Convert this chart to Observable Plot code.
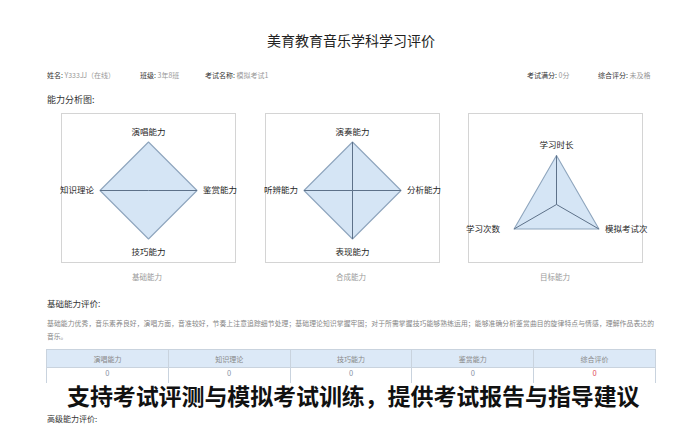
<!DOCTYPE html>
<html><head><meta charset="utf-8">
<script src="https://cdn.jsdelivr.net/npm/d3@7"></script>
<script src="https://cdn.jsdelivr.net/npm/@observablehq/plot@0.6"></script>
<style>
html,body{margin:0;padding:0;background:#fff;}
body{width:700px;height:431px;position:relative;overflow:hidden;font-family:"Noto Sans CJK SC","Noto Sans",sans-serif;color:#222;}
.t{position:absolute;white-space:nowrap;}
.box{position:absolute;border:1px solid #d4d4d4;box-sizing:border-box;width:175px;height:150px;}
.plot{position:absolute;}
table{position:absolute;left:46px;top:349px;width:610px;border-collapse:collapse;table-layout:fixed;}
td,th{border:1px solid #c9d3de;text-align:center;font-weight:normal;padding:0;}
th{background:#dce9f7;height:17px;font-size:7px;line-height:8px;color:#888;}
td{height:14px;font-size:7.5px;line-height:8px;color:#8a93a6;vertical-align:top;padding-top:0.5px;border-bottom:none;}
</style></head>
<body>
<script>
// ---- data ----
const pageTitle = "美育教育音乐学科学习评价";
const chartTitles = ["基础能力", "合成能力", "目标能力"];
const basicAxes = ["演唱能力", "鉴赏能力", "技巧能力", "知识理论"];
const basicValues = [100, 100, 100, 100];
const advancedAxes = ["演奏能力", "分析能力", "表现能力", "听辨能力"];
const advancedValues = [100, 100, 100, 100];
const goalAxes = ["学习时长", "模拟考试次", "学习次数"];
const goalValues = [100, 100, 100];
const maxValue = 100;
const tableHeaders = ["演唱能力", "知识理论", "技巧能力", "鉴赏能力", "综合评价"];
const tableValues = [0, 0, 0, 0, 0];

function T(text, left, cy, size, color, extra = "") {
  const d = document.createElement("div");
  d.className = "t";
  d.style.cssText = `left:${left}px;top:${cy - size / 2}px;font-size:${size}px;line-height:${size}px;color:${color};${extra}`;
  d.textContent = text;
  document.body.appendChild(d);
  return d;
}

// header texts
T(pageTitle, 267, 40, 14, "#222");
const info = [["姓名: ", "Y333JJ（在线）", 47], ["班级: ", "3年8班", 140], ["考试名称: ", "模拟考试1", 205], ["考试满分: ", "0分", 527], ["综合评分: ", "未及格", 598]];
for (const [k, v, x] of info) {
  const d = T(k, x, 75, 7, "#333");
  const s = document.createElement("span"); s.style.color = "#999"; s.textContent = v; d.appendChild(s);
}
T("能力分析图:", 47, 99, 9, "#333");

// radar charts
function radarChart(axes, values, opts) {
  const n = axes.length;
  const pts = axes.map((a, i) => {
    const phi = 2 * Math.PI * i / n;
    const v = values[i] / maxValue;
    return {name: a, x: v * Math.sin(phi), y: v * Math.cos(phi), s: Math.sin(phi), c: Math.cos(phi)};
  });
  const ring = [...pts, pts[0]];
  const sp = pts.filter(p => opts.spokes(p));
  const textMarks = pts.map(p => {
    const mid = Math.abs(p.s) < 1e-6;
    return Plot.text([p], {x: "x", y: "y", text: "name",
      textAnchor: mid ? "middle" : (p.s > 0 ? "start" : "end"),
      dx: mid ? 0 : (p.s > 0 ? 6 : -opts.gapL),
      dy: mid ? (p.c > 0 ? -10 : 13) : 0,
      fontSize: 8.5, fill: "#1e1e1e"});
  });
  const {W, H, cx, cy, r} = opts;
  const plot = Plot.plot({
    width: W, height: H, margin: 0,
    x: {domain: [-cx / r, (W - cx) / r], axis: null},
    y: {domain: [-(H - cy) / r, cy / r], axis: null},
    style: {fontFamily: "Noto Sans CJK SC", overflow: "visible", background: "transparent"},
    marks: [
      Plot.line(ring, {x: "x", y: "y", fill: "#d5e5f5", stroke: "#8ea5bd", strokeWidth: 1.1}),
      Plot.link(sp, {x1: () => 0, y1: () => 0, x2: "x", y2: "y", stroke: "#5d7189", strokeWidth: 1}),
      ...textMarks
    ]
  });
  const wrap = document.createElement("div");
  wrap.className = "plot";
  wrap.style.left = opts.left + "px";
  wrap.style.top = opts.top + "px";
  wrap.appendChild(plot);
  document.body.appendChild(wrap);
}

const boxLefts = [61, 265, 468];
const boxCenters = [148, 352, 556];
boxLefts.forEach((l, i) => {
  const b = document.createElement("div");
  b.className = "box"; b.style.left = l + "px"; b.style.top = "113px";
  document.body.appendChild(b);
  T(chartTitles[i], boxCenters[i] - 16, 277, 7.5, "#9a9a9a");
});

radarChart(basicAxes, basicValues, {left: 61, top: 113, W: 175, H: 150, cx: 87, cy: 77, r: 48.5, gapL: 6,
  spokes: p => Math.abs(p.s) > 0.5});
radarChart(advancedAxes, advancedValues, {left: 265, top: 113, W: 175, H: 150, cx: 87, cy: 77, r: 48.5, gapL: 6,
  spokes: p => true});
radarChart(goalAxes, goalValues, {left: 468, top: 113, W: 175, H: 150, cx: 88, cy: 91, r: 49, gapL: 14,
  spokes: p => true});

// evaluation section
T("基础能力评价:", 47, 303, 8.5, "#333");
T("基础能力优秀，音乐素养良好，演唱方面，音准较好，节奏上注意追踪细节处理；基础理论知识掌握牢固；对于所需掌握技巧能够熟练运用；能够准确分析鉴赏曲目的旋律特点与情感，理解作品表达的", 47, 323, 6.8, "#858585",
  "width:607px;text-align:justify;text-align-last:justify;");
T("音乐。", 47, 336, 6.8, "#858585");

// table
const tbl = document.createElement("table");
const hr = tbl.insertRow();
tableHeaders.forEach(h => { const th = document.createElement("th"); th.textContent = h; hr.appendChild(th); });
const vr = tbl.insertRow();
tableValues.forEach((v, i) => { const td = vr.insertCell(); td.textContent = v; if (i === 4) td.style.color = "#e0505a"; });
document.body.appendChild(tbl);

// caption overlay
T("支持考试评测与模拟考试训练，提供考试报告与指导建议", 40, 395.5, 23, "#111",
  "font-weight:bold;background:#fff;padding:0 26px 0 27px;letter-spacing:-0.1px;");
T("高级能力评价:", 47, 419, 8, "#333");
</script>
</body></html>
